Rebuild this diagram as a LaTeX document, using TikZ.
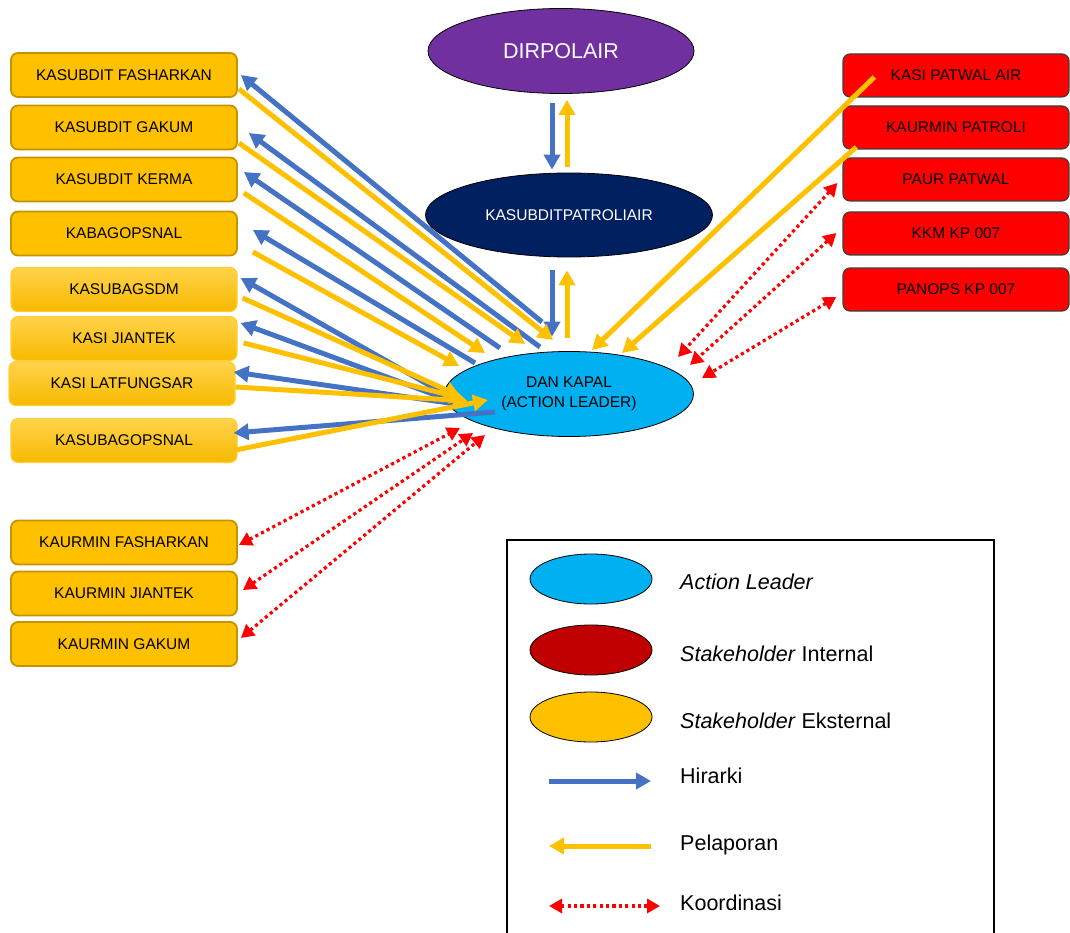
\documentclass[tikz,border=0pt]{standalone}
\usepackage{fontspec}
\setmainfont{Liberation Sans}
\usetikzlibrary{arrows.meta,calc,shapes.geometric}

\definecolor{gold}{HTML}{FFC000}
\definecolor{goldedge}{HTML}{C39400}
\definecolor{goldtop}{HTML}{FFD24A}
\definecolor{goldbot}{HTML}{F7BA00}
\definecolor{goldline}{HTML}{FFCF3A}
\definecolor{hblue}{HTML}{4472C4}
\definecolor{kred}{HTML}{FF0000}
\definecolor{purp}{HTML}{7030A0}
\definecolor{navy}{HTML}{002060}
\definecolor{cyanfill}{HTML}{00B0F0}
\definecolor{darkred}{HTML}{C00000}

\newcommand{\boxfont}{\fontsize{15.5}{20}\selectfont}
\newcommand{\legfont}{\fontsize{21.5}{26}\selectfont}

\tikzset{
  ebox/.style={rounded corners=7pt, fill=gold, draw=goldedge, line width=1.8pt,
    minimum width=226pt, minimum height=44pt, inner sep=0pt, font=\boxfont, text=black},
  gbox/.style={ebox, top color=goldtop, bottom color=goldbot, draw=goldline, line width=1.2pt},
  rbox/.style={rounded corners=7pt, fill=kred, draw=black!75, line width=1.2pt,
    minimum width=226pt, minimum height=43pt, inner sep=0pt, font=\boxfont, text=black},
  oval/.style={ellipse, draw=black, line width=0.8pt, inner sep=0pt, align=center},
  hir/.style={draw=hblue, line width=5pt, -{Triangle[length=15pt,width=16pt]}},
  pel/.style={draw=gold, line width=5pt, -{Triangle[length=15pt,width=16pt]}},
  koo/.style={draw=kred, line width=3.2pt, dash pattern=on 3.2pt off 3.2pt,
    {Triangle[length=13pt,width=14pt]}-{Triangle[length=13pt,width=14pt]}},
  legtext/.style={anchor=west, font=\legfont, text=black, inner sep=0pt},
}

\begin{document}
\begin{tikzpicture}[x=1pt,y=-1pt]
\clip (0,0) rectangle (1070,933);
\fill[white] (0,0) rectangle (1070,933);

% central chain
\node[oval, fill=purp, minimum width=266pt, minimum height=85pt,
      text=white, font=\fontsize{21.5}{26}\selectfont] (dp) at (561,51) {DIRPOLAIR};
\node[oval, fill=navy, minimum width=287pt, minimum height=84pt,
      text=white, font=\boxfont] (ks) at (569,215) {KASUBDITPATROLIAIR};
\node[oval, fill=cyanfill, minimum width=249pt, minimum height=85pt,
      text=black, font=\boxfont] (dk) at (569,394) {DAN KAPAL\\(ACTION LEADER)};

% left column: external stakeholders
\node[ebox] (b1) at (124,75)    {KASUBDIT FASHARKAN};
\node[ebox] (b2) at (124,127.5) {KASUBDIT GAKUM};
\node[ebox] (b3) at (124,179.5) {KASUBDIT KERMA};
\node[ebox] (b4) at (124,233.5) {KABAGOPSNAL};
\node[gbox] (b5) at (124,289.5) {KASUBAGSDM};
\node[gbox] (b6) at (124,338.5) {KASI JIANTEK};
\node[gbox] (b7) at (122,383.5) {KASI LATFUNGSAR};
\node[gbox] (b8) at (124,440.5) {KASUBAGOPSNAL};
\node[ebox] (b9)  at (124,542.5) {KAURMIN FASHARKAN};
\node[ebox] (b10) at (124,593.5) {KAURMIN JIANTEK};
\node[ebox] (b11) at (124,644)   {KAURMIN GAKUM};

% right column: internal stakeholders
\node[rbox] (r1) at (956,75.5)  {KASI PATWAL AIR};
\node[rbox] (r2) at (956,127.5) {KAURMIN PATROLI};
\node[rbox] (r3) at (956,179.5) {PAUR PATWAL};
\node[rbox] (r4) at (956,233.5) {KKM KP 007};
\node[rbox] (r5) at (956,289.5) {PANOPS KP 007};

% hierarchy down the chain, reporting back up
\draw[hir] ($(dp.south)+(-9,9)$) -- ($(ks.north)+(-17,-3)$);
\draw[pel] ($(ks.north)+(-2,-6)$) -- ($(dp.south)+(6,6)$);
\draw[hir] ($(ks.south)+(-17,13)$) -- ($(dk.north)+(-17,-14.5)$);
\draw[pel] ($(dk.north)+(-2,-13.5)$) -- ($(ks.south)+(-2,13)$);

% hierarchy from the action leader to the left column
\draw[hir] ($(dk)+(-27,-72)$)  -- ($(b1.east)+(3,0)$);
\draw[hir] ($(dk)+(-29,-47)$)  -- ($(b2.east)+(11,5.5)$);
\draw[hir] ($(dk)+(-69,-46)$)  -- ($(b3.east)+(6,-7.5)$);
\draw[hir] ($(dk)+(-94,-31)$)  -- ($(b4.east)+(15,-3.5)$);
\draw[hir] ($(dk)+(-119,3)$)   -- ($(b5.east)+(3,-11.5)$);
\draw[hir] ($(dk)+(-112,9)$)   -- ($(b6.east)+(3,-15.5)$);
\draw[hir] ($(dk)+(-106,11)$)  -- ($(b7.east)+(-2,-11.5)$);
\draw[hir] ($(dk)+(-74,18)$)   -- ($(b8.east)+(-4,-7.5)$);

% reports from the left column
\draw[pel] ($(b1.east)+(1,14)$)    -- ($(dk)+(-16,-54)$);
\draw[pel] ($(b2.east)+(1,15.5)$)  -- ($(dk)+(-44,-50)$);
\draw[pel] ($(b3.east)+(6,13.5)$)  -- ($(dk)+(-84,-41)$);
\draw[pel] ($(b4.east)+(15,18.5)$) -- ($(dk)+(-110,-28)$);
\draw[pel] ($(b5.east)+(5,8.5)$)   -- ($(dk)+(-109,2)$);
\draw[pel] ($(b6.east)+(6,4.5)$)   -- ($(dk)+(-104,5)$);
\draw[pel] ($(b7.east)+(0,3.5)$)   -- ($(dk)+(-101,7)$);
\draw[pel] ($(b8.east)+(-2,9.5)$)  -- ($(dk)+(-81,6)$);

% reports from the right column
\draw[pel] ($(r1.west)+(32,1.5)$)  -- ($(dk)+(23,-44)$);
\draw[pel] ($(r2.west)+(14,19.5)$) -- ($(dk)+(53,-41)$);

% coordination
\draw[koo] ($(r3.west)+(-5,3.5)$)  -- ($(dk)+(109,-37)$);
\draw[koo] ($(r4.west)+(-6,-0.5)$) -- ($(dk)+(121,-29)$);
\draw[koo] ($(r5.west)+(-6,7.5)$)  -- ($(dk)+(133,-16)$);
\draw[koo] ($(b9.east)+(1,2.5)$)   -- ($(dk)+(-109,34)$);
\draw[koo] ($(b10.east)+(5,-3.5)$) -- ($(dk)+(-96,39)$);
\draw[koo] ($(b11.east)+(3,-6)$)   -- ($(dk)+(-84,41)$);

% legend
\draw[black, line width=1.5pt] (507,540) rectangle (994,950);
\node[oval, fill=cyanfill, minimum width=122pt, minimum height=50pt] (l1) at (591,579) {};
\node[oval, fill=darkred,  minimum width=122pt, minimum height=50pt] (l2) at (591,650) {};
\node[oval, fill=gold,     minimum width=122pt, minimum height=50pt] (l3) at (591,717) {};
\node[legtext] (t1) at (680,582) {\textit{Action Leader}};
\node[legtext] (t2) at (680,654) {\textit{Stakeholder} Internal};
\node[legtext] (t3) at (680,721) {\textit{Stakeholder} Eksternal};
\coordinate (h0) at (549,781);  \coordinate (h1) at (651,781);
\coordinate (p0) at (651,846);  \coordinate (p1) at (549,846);
\coordinate (k0) at (549,906);  \coordinate (k1) at (660,906);
\draw[hir] (h0) -- (h1);
\draw[pel] (p0) -- (p1);
\draw[koo] (k0) -- (k1);
\node[legtext] (t4) at (680,776) {Hirarki};
\node[legtext] (t5) at (680,845) {Pelaporan};
\node[legtext] (t6) at (680,903) {Koordinasi};
\end{tikzpicture}
\end{document}
